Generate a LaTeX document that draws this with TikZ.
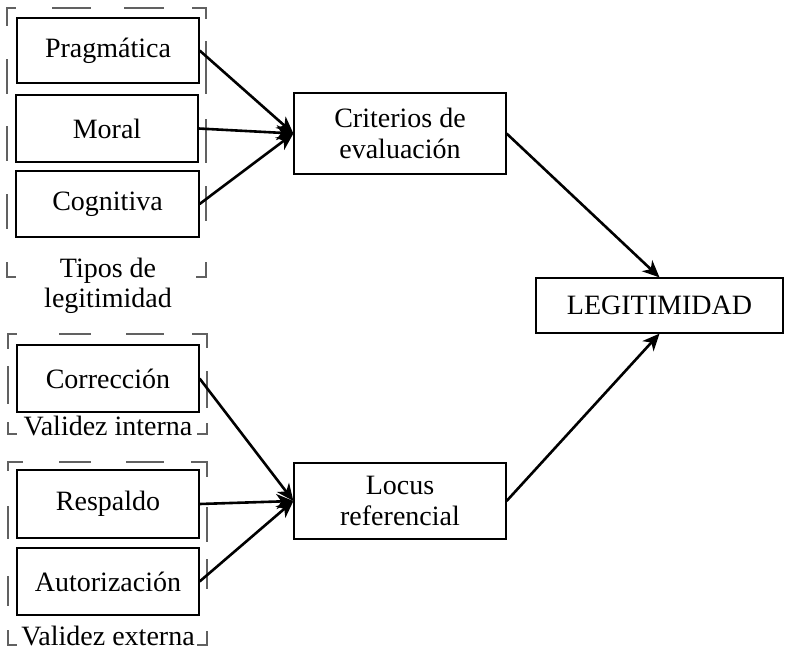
\documentclass[tikz,border=0pt]{standalone}
\usepackage{fontspec}
\setmainfont{Liberation Serif}
\usetikzlibrary{arrows.meta}
\begin{document}
\begin{tikzpicture}[x=1pt,y=-1pt,
  box/.style={draw=black,line width=1.2pt,fill=white,inner sep=0pt,align=center,
    font=\fontsize{28}{31}\selectfont},
  lbl/.style={inner sep=0pt,align=center,font=\fontsize{28}{30}\selectfont},
  fr/.style={draw=black!62,line width=1.4pt,line cap=rect},
  arr/.style={line width=2.6pt,-{Stealth[length=17pt,width=15pt,inset=5pt]}}]
\useasboundingbox (0,0) rectangle (785,651);
% dashed frames
% frame 1
\draw[fr] (7,25)--(7,8)--(15,8) (53,8)--(90,8) (125,8)--(163,8) (193,8)--(206,8)--(206,18);
\draw[fr] (7,60)--(7,93) (7,127)--(7,160) (7,195)--(7,228) (7,263)--(7,277)--(15,277);
\draw[fr] (206,42)--(206,93) (206,120)--(206,162) (206,187)--(206,220) (206,263)--(206,277)--(197,277);
% frame 2
\draw[fr] (8,348)--(8,334)--(16,334) (60,334)--(90,334) (127,334)--(163,334) (193,334)--(207,334)--(207,347);
\draw[fr] (8,367)--(8,403) (207,372)--(207,407);
\draw[fr] (8,423)--(8,434)--(16,434) (198,434)--(207,434)--(207,424);
% frame 3
\draw[fr] (8,470)--(8,462)--(22,462) (60,462)--(90,462) (127,462)--(163,462) (192,462)--(207,462)--(207,476);
\draw[fr] (8,507)--(8,538) (8,577)--(8,605) (207,508)--(207,541) (207,560)--(207,588);
\draw[fr] (8,631)--(8,645)--(16,645) (198,645)--(207,645)--(207,632);
% group labels
\node[lbl] (tipos) at (108,286) {Tipos de\\legitimidad};
\node[lbl,anchor=base] (vint) at (108,435) {Validez interna};
\node[lbl,anchor=base] (vext) at (108,645) {Validez externa};
% boxes
\node[box,minimum width=182pt,minimum height=65pt] (prag) at (108,50.5) {Pragmática};
\node[box,minimum width=182pt,minimum height=67pt] (moral) at (107,128.5) {Moral};
\node[box,minimum width=183pt,minimum height=66pt] (cogn) at (107.5,204) {Cognitiva};
\node[box,minimum width=182pt,minimum height=67pt] (corr) at (108,378.5) {Corrección};
\node[box,minimum width=182pt,minimum height=68pt] (resp) at (108,504) {Respaldo};
\node[box,minimum width=182pt,minimum height=67pt] (auto) at (108,581.5) {Autorización};
\node[box,minimum width=212pt,minimum height=81pt] (crit) at (400,133.5) {Criterios de\\evaluación};
\node[box,minimum width=212pt,minimum height=76pt] (locus) at (400,501) {Locus\\referencial};
\node[box,minimum width=247pt,minimum height=55pt] (legit) at (659.5,305.5) {LEGITIMIDAD};
% connectors
\draw[arr] (prag.east) -- (crit.west);
\draw[arr] (moral.east) -- (crit.west);
\draw[arr] (cogn.east) -- (crit.west);
\draw[arr] (corr.east) -- (locus.west);
\draw[arr] (resp.east) -- (locus.west);
\draw[arr] (auto.east) -- (locus.west);
\draw[arr] (crit.east) -- (legit.north);
\draw[arr] (locus.east) -- (legit.south);
\end{tikzpicture}
\end{document}
